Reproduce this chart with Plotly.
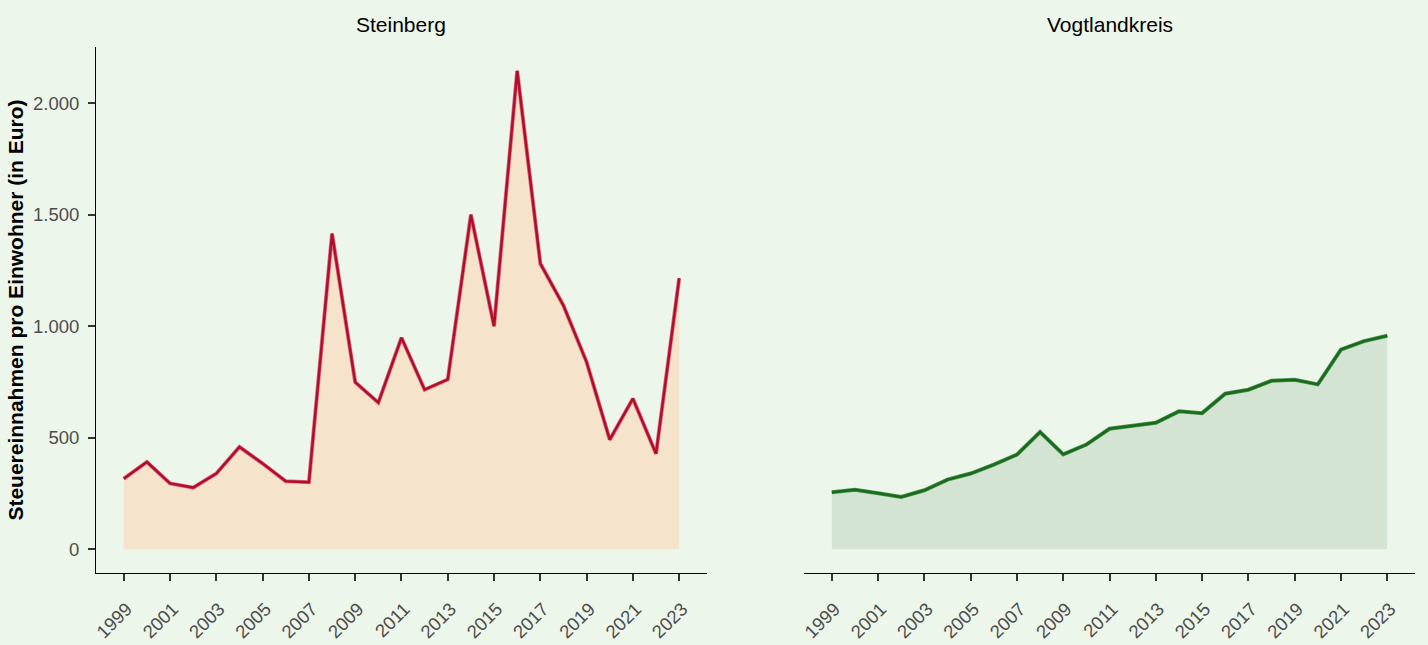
import plotly.graph_objects as go
from plotly.subplots import make_subplots

years = list(range(1999, 2024))
steinberg = [316, 391, 295, 276, 339, 458, 384, 304, 300, 1415, 749, 657, 948, 715, 761,
             1500, 1000, 2145, 1281, 1092, 839, 491, 675, 428, 1215]
vogtland = [255, 266, 251, 234, 264, 312, 339, 379, 424, 525, 425, 469, 540, 552, 567,
            618, 610, 697, 715, 755, 760, 739, 895, 933, 957]
titles = ["Steinberg", "Vogtlandkreis"]
x_ticks = list(range(1999, 2024, 2))
y_ticks = [0, 500, 1000, 1500, 2000]

bg = "#EDF6EB"
FONT = "Liberation Sans, Arial"
fig = make_subplots(rows=1, cols=2, shared_yaxes=False, horizontal_spacing=0.0736,
                    subplot_titles=titles)

series = [
    (steinberg, "#F5E3CB", "#D8707F", "#B30D2C"),
    (vogtland, "#D3E5D2", "#4E8F50", "#176B1B"),
]
for i, (vals, fillc, edgec, linec) in enumerate(series, start=1):
    fig.add_trace(go.Scatter(x=years, y=vals, mode="lines", fill="tozeroy",
                             fillcolor=fillc, line=dict(color=edgec, width=4),
                             hoverinfo="skip", showlegend=False), row=1, col=i)
    fig.add_trace(go.Scatter(x=years, y=vals, mode="lines",
                             line=dict(color=linec, width=2.5),
                             showlegend=False), row=1, col=i)

common_x = dict(range=[1997.8, 2024.2], tickvals=x_ticks, ticktext=[str(t) for t in x_ticks],
                tickangle=-45, showgrid=False, zeroline=False, showline=True,
                linecolor="black", linewidth=1, ticks="outside", ticklen=7, tickwidth=2,
                tickcolor="#333333", tickfont=dict(family=FONT, size=18.5, color="#4D4D4D"),
                ticklabelstandoff=10, ticklabelshift=3, automargin=False)
fig.update_xaxes(**common_x)
fig.update_yaxes(range=[-107, 2252], showgrid=False, zeroline=False, automargin=False)
fig.update_yaxes(row=1, col=1, tickvals=y_ticks, tickformat=",d", showline=True,
                 linecolor="black", linewidth=1, ticks="outside", ticklen=7, tickwidth=2,
                 tickcolor="#333333", ticklabelstandoff=5,
                 tickfont=dict(family=FONT, size=18.5, color="#4D4D4D"),
                 title=dict(text="<b>Steuereinnahmen pro Einwohner (in Euro)</b>",
                            font=dict(family=FONT, size=21, color="black"),
                            standoff=3))
fig.update_yaxes(row=1, col=2, showticklabels=False, showline=False, ticks="")

fig.update_annotations(font=dict(family=FONT, size=21, color="black"))
for ann in fig.layout.annotations:
    ann.y = 1.0
    ann.yanchor = "middle"
    ann.yshift = 23

fig.update_layout(width=1428, height=645, paper_bgcolor=bg, plot_bgcolor=bg,
                  margin=dict(l=96, r=13, t=47, b=72), separators=",.",
                  font=dict(family=FONT))
fig.write_html("out.html", config={"displayModeBar": False},
               post_script="document.body.style.margin='0';document.body.style.background='%s';" % bg)
